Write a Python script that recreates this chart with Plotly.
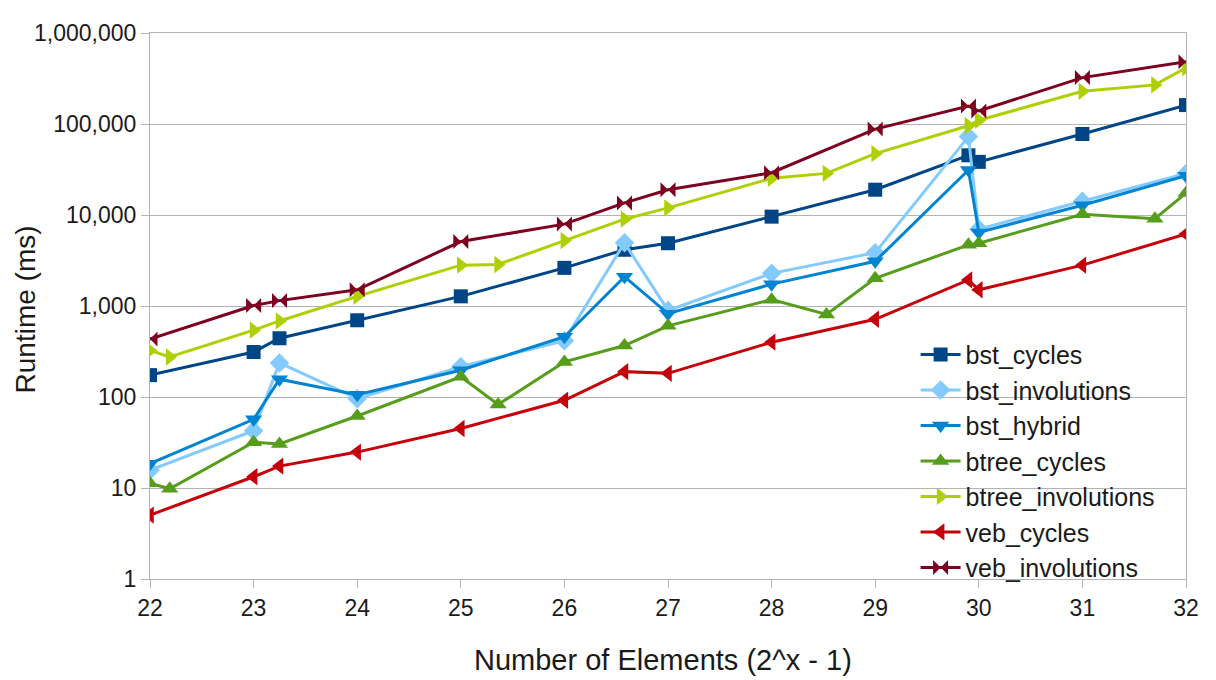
import plotly.graph_objects as go

# x positions (log2 of element count)
X_STD = [22, 23, 23.25, 24, 25, 26, 26.58, 27, 28, 29, 29.9, 30, 31, 32]
X_BTREE = [22, 22.19, 23, 23.25, 24, 25, 25.36, 26, 26.58, 27, 28, 28.53, 29, 29.9, 30, 31, 31.7, 32]

bst_cycles = [174, 312, 442, 697, 1277, 2625, 4150, 4895, 9590, 18960, 45300, 38370, 77600, 161400]
bst_involutions = [15.7, 42.6, 237, 95.9, 215, 416, 4945, 894, 2285, 3855, 72700, 7000, 14170, 28650]
bst_hybrid = [18.5, 56.9, 156.6, 106, 197, 460, 2100, 824, 1738, 3100, 31200, 6440, 12800, 27000]
btree_cycles = [11.3, 9.8, 31.8, 30.5, 61.8, 167, 82.6, 243, 368, 605, 1175, 809, 2018, 4700, 4900, 10180, 9120, 17420]
btree_involutions = [325, 275, 543, 685, 1277, 2810, 2860, 5235, 8990, 11990, 25300, 28650, 47200, 95700, 109900, 228500, 269000, 415000]
veb_cycles = [5.04, 13.3, 17.4, 24.8, 45.1, 92.1, 190, 182, 400, 715, 1933, 1508, 2810, 6185]
veb_involutions = [434, 1012, 1146, 1508, 5105, 7940, 13590, 18960, 29160, 87900, 157400, 139000, 323600, 482000]

X_TICKS = [22, 23, 24, 25, 26, 27, 28, 29, 30, 31, 32]
Y_TICKS = [1, 10, 100, 1000, 10000, 100000, 1000000]
Y_TICKTEXT = ["1", "10", "100", "1,000", "10,000", "100,000", "1,000,000"]

series = [
    ("bst_cycles", X_STD, bst_cycles, "#004586", "square", 14),
    ("bst_involutions", X_STD, bst_involutions, "#83caff", "diamond", 15),
    ("bst_hybrid", X_STD, bst_hybrid, "#0084d1", "triangle-down", 15),
    ("btree_cycles", X_BTREE, btree_cycles, "#579d1c", "triangle-up", 15),
    ("btree_involutions", X_BTREE, btree_involutions, "#aecf00", "triangle-right", 15),
    ("veb_cycles", X_STD, veb_cycles, "#c5000b", "triangle-left", 15),
    ("veb_involutions", X_STD, veb_involutions, "#7e0021", "bowtie", 15),
]

fig = go.Figure()
for name, xs, ys, color, sym, size in series:
    fig.add_trace(go.Scatter(
        x=xs, y=ys, name=name, mode="lines+markers",
        line=dict(color=color, width=3),
        marker=dict(symbol=sym, size=size, color=color, line=dict(width=0)),
    ))

FONT = "Liberation Sans, Arial, sans-serif"
TXT = "#1a1a1a"
fig.update_layout(
    width=1208, height=672,
    margin=dict(l=142, r=30, t=16, b=101),
    paper_bgcolor="white", plot_bgcolor="white",
    font=dict(family=FONT, size=23, color=TXT),
    showlegend=True,
    legend=dict(
        x=0.739, y=0.453, xanchor="left", yanchor="top",
        bgcolor="rgba(0,0,0,0)", font=dict(size=25, family=FONT, color=TXT),
        itemwidth=40, tracegroupgap=0,
    ),
    annotations=[
        dict(text="Runtime (ms)", xref="paper", yref="paper",
             x=(25 - 150) / 1036, y=(579 - 305) / 555, xanchor="center", yanchor="middle",
             textangle=-90, showarrow=False, font=dict(size=28, family=FONT, color=TXT)),
        dict(text="Number of Elements (2^x - 1)", xref="paper", yref="paper",
             x=(663 - 150) / 1036, y=(579 - 661) / 555, xanchor="center", yanchor="middle",
             showarrow=False, font=dict(size=29, family=FONT, color=TXT)),
    ],
)
fig.update_xaxes(
    range=[22, 32], tickvals=X_TICKS, ticktext=[str(t) for t in X_TICKS],
    showgrid=False, showline=True, linecolor="#b3b3b3", linewidth=1, mirror=True,
    ticks="outside", ticklen=8, tickcolor="#b3b3b3",
    tickfont=dict(size=23),
    zeroline=False,
)
fig.update_yaxes(
    type="log", range=[0, 6], tickvals=Y_TICKS, ticktext=Y_TICKTEXT,
    showgrid=True, gridcolor="#b3b3b3", gridwidth=1,
    showline=True, linecolor="#b3b3b3", linewidth=1, mirror=True,
    ticks="outside", ticklen=8, tickcolor="#b3b3b3",
    tickfont=dict(size=23),
    zeroline=False,
)

fig.write_html("out.html")
